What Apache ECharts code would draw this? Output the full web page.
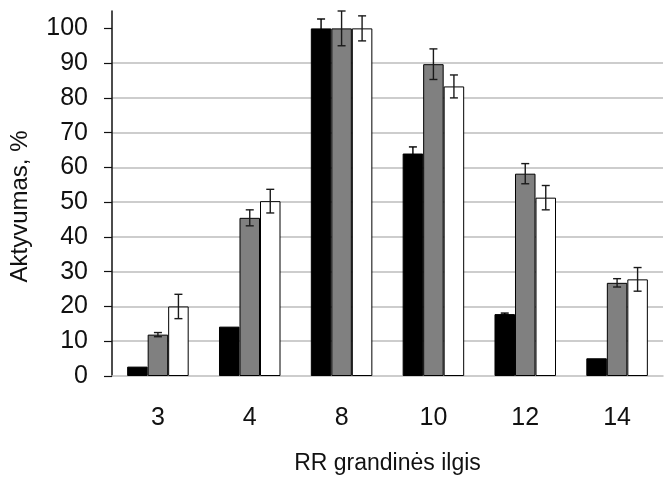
<!DOCTYPE html>
<html>
<head>
<meta charset="utf-8">
<script src="https://cdn.jsdelivr.net/npm/echarts@6/dist/echarts.min.js"></script>
<style>
html,body{margin:0;padding:0;background:#fff;}
#chart{width:665px;height:480px;}
</style>
</head>
<body>
<div id="chart"></div>
<script>
var categories = ['3', '4', '8', '10', '12', '14'];
var blackValues = [2.7, 14.2, 100, 64.0, 17.8, 5.1];
var blackErr = [0, 0, 2.7, 1.9, 0.3, 0];
var grayValues = [11.9, 45.5, 100, 89.7, 58.2, 26.8];
var grayErr = [0.6, 2.3, 5.0, 4.4, 2.9, 1.2];
var whiteValues = [20.0, 50.3, 100, 83.3, 51.3, 27.8];
var whiteErr = [3.5, 3.4, 3.6, 3.3, 3.5, 3.4];
var yTicks = [0, 10, 20, 30, 40, 50, 60, 70, 80, 90, 100];

var FONT = 'Liberation Sans, Arial, sans-serif';
var GAP = 0.33;

function errData(vals, errs) {
  return vals.map(function (v, i) { return [i, v, errs[i]]; });
}
function errSeries(vals, errs, pos, color) {
  return {
    type: 'custom',
    silent: true,
    z: 5,
    data: errData(vals, errs),
    renderItem: function (params, api) {
      var idx = api.value(0), v = api.value(1), e = api.value(2);
      if (!e) { return { type: 'group', children: [] }; }
      var band = api.size([1, 0])[0];
      var barW = band * (1 - GAP) / 3;
      var hi = api.coord([idx, v + e]);
      var lo = api.coord([idx, v - e]);
      var x = hi[0] + pos * barW;
      var cap = 4;
      var st = { stroke: color, lineWidth: 1.4 };
      return {
        type: 'group',
        children: [
          { type: 'line', shape: { x1: x, y1: hi[1], x2: x, y2: lo[1] }, style: st },
          { type: 'line', shape: { x1: x - cap, y1: hi[1], x2: x + cap, y2: hi[1] }, style: st },
          { type: 'line', shape: { x1: x - cap, y1: lo[1], x2: x + cap, y2: lo[1] }, style: st }
        ]
      };
    }
  };
}
function barSeries(vals, color) {
  return {
    type: 'bar',
    data: vals,
    barGap: '0%',
    barCategoryGap: (GAP * 100) + '%',
    itemStyle: { color: color, borderColor: '#000', borderWidth: 1 }
  };
}

var chart = echarts.init(document.getElementById('chart'));
chart.setOption({
  animation: false,
  backgroundColor: '#fff',
  grid: { left: 112, right: 2, top: 11, bottom: 103, containLabel: false },
  xAxis: {
    type: 'category',
    data: categories,
    axisLine: { show: true, lineStyle: { color: '#bdbdbd', width: 1.5 } },
    axisTick: { show: false },
    axisLabel: { fontFamily: FONT, fontSize: 25, color: '#111', margin: 30 },
    name: 'RR grandinės ilgis',
    nameLocation: 'middle',
    nameGap: 76,
    nameTextStyle: { fontFamily: FONT, fontSize: 23, color: '#111' }
  },
  yAxis: {
    type: 'value',
    min: 0,
    max: 105,
    interval: 10,
    axisLine: { show: true, lineStyle: { color: '#111', width: 1.5 } },
    axisTick: { show: true, customValues: yTicks, length: 8, lineStyle: { color: '#111', width: 1.2 } },
    axisLabel: { customValues: yTicks, fontFamily: FONT, fontSize: 25, color: '#111', margin: 24 },
    splitLine: { show: true, showMaxLine: false, showMinLine: false, lineStyle: { color: '#bdbdbd', width: 1.5 } },
    name: 'Aktyvumas, %',
    nameLocation: 'middle',
    nameGap: 80,
    nameRotate: 90,
    nameTextStyle: { fontFamily: FONT, fontSize: 24, color: '#111', padding: [0, 26, 0, 0] }
  },
  series: [
    barSeries(blackValues, '#000000'),
    barSeries(grayValues, '#808080'),
    barSeries(whiteValues, '#ffffff'),
    errSeries(blackValues, blackErr, -1, '#000'),
    errSeries(grayValues, grayErr, 0, '#1a1a1a'),
    errSeries(whiteValues, whiteErr, 1, '#1a1a1a')
  ]
});
</script>
</body>
</html>
